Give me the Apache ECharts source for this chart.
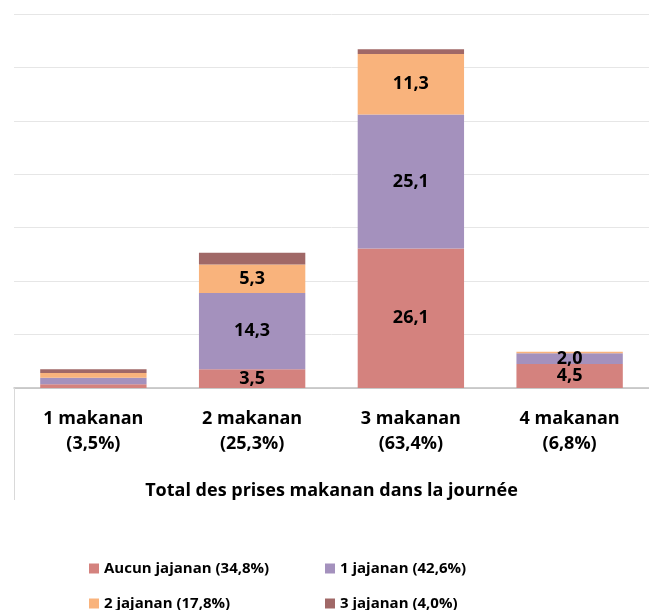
<!DOCTYPE html>
<html><head><meta charset="utf-8">
<script src="https://cdn.jsdelivr.net/npm/echarts@6/dist/echarts.min.js"></script>
<style>html,body{margin:0;padding:0;background:#fff}#c{width:649px;height:610px}</style>
</head><body><div id="c"></div>
<script>
const categories = ['1 makanan\n(3,5%)', '2 makanan\n(25,3%)', '3 makanan\n(63,4%)', '4 makanan\n(6,8%)'];
const seriesNames = ['Aucun jajanan (34,8%)', '1 jajanan (42,6%)', '2 jajanan (17,8%)', '3 jajanan (4,0%)'];
const aucun = [0.7, 3.5, 26.1, 4.5];
const jajanan1 = [1.2, 14.3, 25.1, 2.0];
const jajanan2 = [0.9, 5.3, 11.3, 0.3];
const jajanan3 = [0.7, 2.2, 0.9, 0];
const colors = ['#D4827E', '#A491BD', '#F9B37C', '#A06867'];
const axisTitle = 'Total des prises makanan dans la journée';
const FONT = 'Open Sans';

const chart = echarts.init(document.getElementById('c'));
const dataSets = [aucun, jajanan1, jajanan2, jajanan3];
const series = dataSets.map((d, i) => ({
  name: seriesNames[i], type: 'bar', stack: 'total', data: d,
  barCategoryGap: '33%',
  itemStyle: { color: colors[i] },
  label: {
    show: i < 3, position: 'inside', color: '#000', fontFamily: FONT, fontWeight: 'bold', fontSize: 18,
    formatter: p => p.value >= 2 ? String(p.value.toFixed(1)).replace('.', ',') : ''
  }
}));
const legendPos = [[89, 561], [325, 561], [89, 596], [325, 596]];
chart.setOption({
  animation: false,
  grid: { left: 14, top: 14, width: 647, height: 374 },
  xAxis: {
    type: 'category', data: categories,
    name: axisTitle, nameLocation: 'middle', nameGap: 94,
    nameTextStyle: { fontFamily: FONT, fontWeight: 'bold', fontSize: 18, color: '#000' },
    axisLine: { lineStyle: { color: '#BFBFBF', width: 1.5 } },
    axisTick: { show: true, length: 112, interval: (idx) => idx === 0, lineStyle: { color: '#D9D9D9' } },
    axisLabel: { fontFamily: FONT, fontWeight: 'bold', fontSize: 18, color: '#000', lineHeight: 25, margin: 18 }
  },
  yAxis: {
    type: 'value', min: 0, max: 70, interval: 10,
    axisLabel: { show: false }, axisLine: { show: false }, axisTick: { show: false },
    splitLine: { lineStyle: { color: '#E6E6E6' } }
  },
  legend: seriesNames.map((n, i) => ({
    data: [n], left: legendPos[i][0], top: legendPos[i][1], itemWidth: 10, itemHeight: 10, itemGap: 4,
    icon: 'rect', padding: 0,
    textStyle: { fontFamily: FONT, fontWeight: 'bold', fontSize: 15, color: '#000' }
  })),
  series
});
</script></body></html>
